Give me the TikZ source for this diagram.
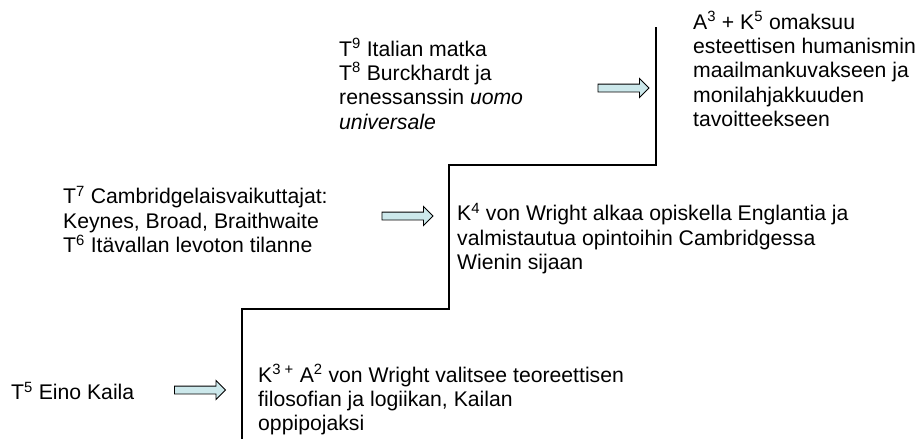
\documentclass[tikz,border=0pt]{standalone}
\usepackage{fontspec}
\setmainfont{Liberation Sans}
\usetikzlibrary{shapes.arrows}
\definecolor{arrowfill}{RGB}{204,232,235}
\begin{document}
\begin{tikzpicture}[x=1pt,y=-1pt,
  txt/.style={anchor=north west, inner sep=0pt, align=left, font=\fontsize{21.2}{24.4}\selectfont},
  blockarrow/.style={single arrow, draw=black, line width=0.9pt, fill=arrowfill,
    minimum height=51pt, inner xsep=0pt, inner ysep=3.5pt,
    single arrow head extend=5.5pt, single arrow head indent=0pt},
  stair/.style={draw=black, line width=1.1pt}]
\useasboundingbox (0,0) rectangle (918,439);
% staircase
\coordinate (s0) at (656,27);
\coordinate (s1) at (656,165);
\coordinate (s2) at (449,165);
\coordinate (s3) at (449,309);
\coordinate (s4) at (242,309);
\coordinate (s5) at (242,439);
\draw[stair] (s0) -- (s1) -- (s2) -- (s3) -- (s4) -- (s5);
% texts
\node[txt] (a3) at (693,11) {A\textsuperscript{3} + K\textsuperscript{5} omaksuu\\esteettisen humanismin\\maailmankuvakseen ja\\monilahjakkuuden\\tavoitteekseen};
\node[txt] (t9) at (339,38) {T\textsuperscript{9} Italian matka\\T\textsuperscript{8} Burckhardt ja\\renessanssin \textit{uomo}\\\textit{universale}};
\node[txt] (t7) at (63,186) {T\textsuperscript{7} Cambridgelaisvaikuttajat:\\Keynes, Broad, Braithwaite\\T\textsuperscript{6} Itävallan levoton tilanne};
\node[txt] (k4) at (457,203) {K\textsuperscript{4} von Wright alkaa opiskella Englantia ja\\valmistautua opintoihin Cambridgessa\\Wienin sijaan};
\node[txt] (t5) at (11,382) {T\textsuperscript{5} Eino Kaila};
\node[txt] (k3) at (258,364) {K\textsuperscript{3 +} A\textsuperscript{2} von Wright valitsee teoreettisen\\filosofian ja logiikan, Kailan\\oppipojaksi};
% block arrows
\node[blockarrow] (ar1) at (621.5,88) {};
\node[blockarrow] (ar2) at (405.5,216) {};
\node[blockarrow] (ar3) at (198,390) {};
\end{tikzpicture}
\end{document}
